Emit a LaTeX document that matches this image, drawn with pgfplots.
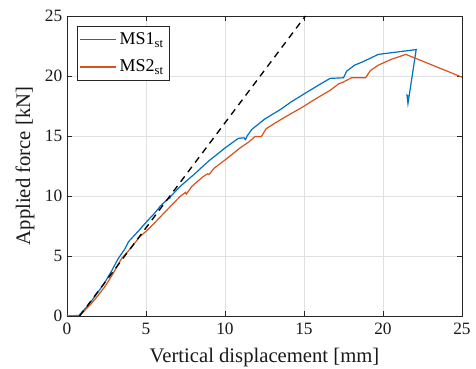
\documentclass[border=0pt]{standalone}
\usepackage{fontspec}
\setmainfont{Liberation Serif}
\usepackage{pgfplots}
\pgfplotsset{compat=1.18}
\definecolor{mblue}{rgb}{0,0.447,0.741}
\definecolor{morange}{rgb}{0.85,0.325,0.098}
\definecolor{axgray}{rgb}{0.15,0.15,0.15}
\definecolor{gridgray}{rgb}{0.88,0.88,0.88}
\begin{document}
\begin{tikzpicture}
\begin{axis}[
  name=ax,
  scale only axis,
  width=296.25pt, height=225pt,
  xmin=0, xmax=25, ymin=0, ymax=25,
  xtick={0,5,...,25}, ytick={0,5,...,25},
  tick align=inside,
  major tick length=3.5pt,
  tick style={axgray, line width=0.5pt},
  axis line style={axgray, line width=0.6pt},
  grid=major,
  major grid style={gridgray, line width=0.5pt},
  /pgf/number format/assume math mode=true,
  tick label style={font=\fontsize{13}{15}\selectfont, text=black!90},
  xticklabel style={yshift=-2pt},
  label style={font=\fontsize{15.5}{18}\selectfont, text=black!90},
  xlabel={Vertical displacement [mm]},
  ylabel={Applied force [kN]},
  xlabel style={at={([yshift=-31.5pt]axis description cs:0.5,0)}, anchor=center},
  ylabel style={at={([xshift=-31.5pt]axis description cs:0,0.5)}, anchor=center, rotate=0},
  legend style={at={(0.025,0.967)}, anchor=north west, draw=axgray, fill=white,
    font=\fontsize{13.5}{16}\selectfont, inner xsep=2pt, inner ysep=3pt,
    row sep=6pt},
  legend cell align=left,
  legend image code/.code={\draw[#1, line width=0.9pt] (0pt,0pt) -- (27pt,0pt);},
]
\addplot[mblue, line width=0.9pt] coordinates {
(0,0) (0.72,0) (1.0,0.4) (1.35,0.9) (1.8,1.7) (2.3,2.6) (2.8,3.7) (3.25,4.8)
(3.67,5.6) (3.9,6.2) (4.5,7.05) (5.04,7.86) (5.5,8.5) (5.85,9.05) (5.78,8.85) (5.86,9.1)
(6.55,9.95) (6.48,9.75) (6.58,10.0) (7.25,10.9) (8.0,11.75) (9.0,12.95) (10,14.0)
(10.84,14.8) (11.2,14.85) (11.3,14.7) (11.4,15.0) (11.7,15.55) (12.5,16.4)
(13.5,17.2) (14.2,17.85) (15.0,18.5) (16.0,19.3) (16.65,19.8) (17.5,19.85)
(17.7,20.4) (18.2,20.9) (18.75,21.2) (19.7,21.8) (22.1,22.2) (21.58,17.7)
(21.52,18.4) (21.6,18.3)
};
\addlegendentry{MS1\textsubscript{st}}
\addplot[morange, line width=0.9pt] coordinates {
(0,0) (0.8,0.05) (1.0,0.3) (1.45,0.9) (1.9,1.6) (2.4,2.45) (2.9,3.5) (3.46,4.8)
(4.1,5.75) (4.6,6.6) (5.04,7.1) (5.5,7.7) (6.3,8.8) (7.15,9.95) (7.5,10.3) (7.55,10.15)
(7.9,10.8) (8.6,11.6) (8.9,11.85) (9.0,11.8) (9.3,12.3) (10,13.0) (10.95,14.0)
(11.5,14.5) (11.9,14.95) (12.3,14.95) (12.6,15.6) (13.2,16.1) (13.7,16.5)
(14.3,16.95) (14.96,17.45) (15.5,17.9) (16.0,18.3) (16.65,18.8) (17.2,19.35)
(17.5,19.5) (18.0,19.85) (18.9,19.85) (19.2,20.45) (19.7,20.9) (20.55,21.4)
(21.45,21.8) (25,19.9)
};
\addlegendentry{MS2\textsubscript{st}}
\addplot[black, line width=1pt, dash pattern=on 5pt off 4pt] coordinates {(0.8,0) (15.09,25)};
\end{axis}
\pgfresetboundingbox
\path ([xshift=-50.25pt,yshift=-39.75pt]ax.south west) rectangle ([xshift=10.5pt,yshift=12pt]ax.north east);
\end{tikzpicture}
\end{document}
